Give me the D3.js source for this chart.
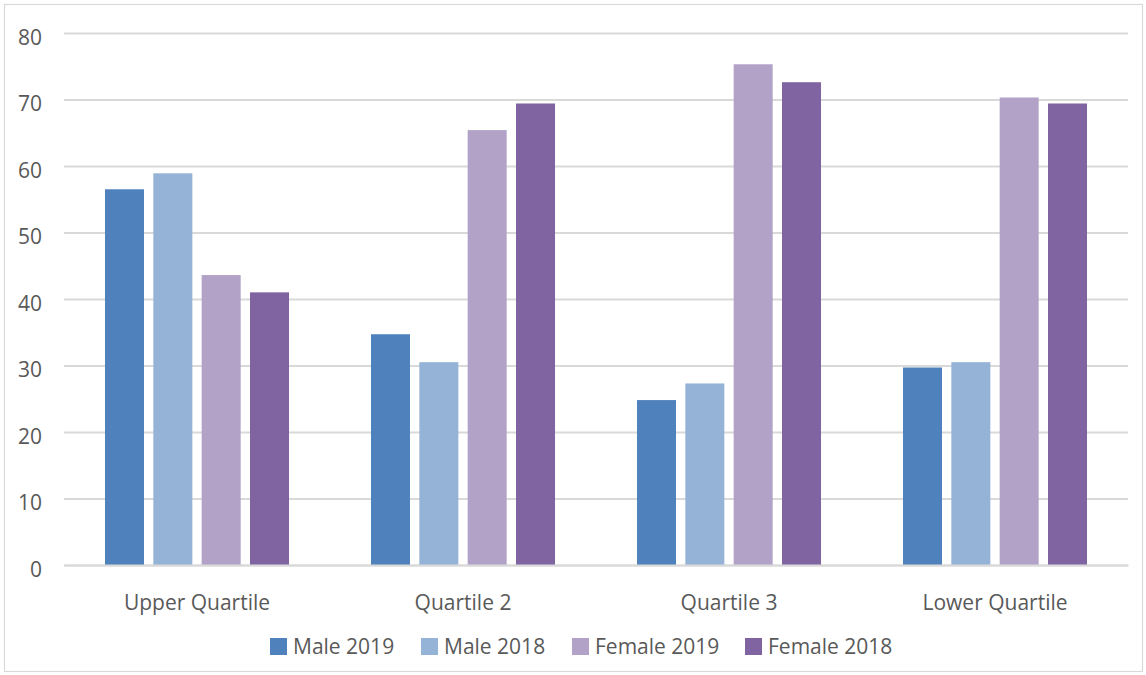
<!DOCTYPE html>
<html>
<head>
<meta charset="utf-8">
<script src="https://cdn.jsdelivr.net/npm/d3@7"></script>
<style>
  html, body { margin: 0; padding: 0; background: #fff; }
  svg { display: block; }
  text { font-family: "Open Sans", "Liberation Sans", sans-serif; fill: #595959; }
</style>
</head>
<body>
<svg id="chart" width="1146" height="675"></svg>
<script>
// Quartile pay bands, share of each group (%)
const categories = ["Upper Quartile", "Quartile 2", "Quartile 3", "Lower Quartile"];
const seriesNames = ["Male 2019", "Male 2018", "Female 2019", "Female 2018"];
const male2019   = [56.5, 34.7, 24.8, 29.7];
const male2018   = [58.9, 30.5, 27.3, 30.5];
const female2019 = [43.6, 65.4, 75.3, 70.3];
const female2018 = [41.0, 69.4, 72.6, 69.4];
const yTicks = [0, 10, 20, 30, 40, 50, 60, 70, 80];
const seriesColors = ["#4F81BD", "#95B3D7", "#B3A2C7", "#8064A2"];

const seriesValues = [male2019, male2018, female2019, female2018];
const rows = categories.map((c, i) => ({
  category: c,
  values: seriesNames.map((s, j) => ({ series: s, value: seriesValues[j][i] }))
}));

const svg = d3.select("#chart");

// outer frame
svg.append("rect")
  .attr("x", 4.5).attr("y", 4.5)
  .attr("width", 1138).attr("height", 667)
  .attr("fill", "none").attr("stroke", "#d9d9d9").attr("stroke-width", 1.2);

const plot = { left: 64, right: 1128, top: 33, bottom: 565 };

const x0 = d3.scaleBand()
  .domain(categories)
  .range([plot.left, plot.right])
  .padding(0);

const x1 = d3.scaleBand()
  .domain(seriesNames)
  .range([0, x0.bandwidth()])
  .paddingInner(0.193)
  .paddingOuter(0.848);

const y = d3.scaleLinear()
  .domain([0, 80])
  .range([plot.bottom, plot.top]);

const color = d3.scaleOrdinal().domain(seriesNames).range(seriesColors);

// gridlines
const yAxis = d3.axisLeft(y)
  .tickValues(yTicks)
  .tickSize(-(plot.right - plot.left))
  .tickPadding(22)
  .tickFormat(d3.format("d"));

const gy = svg.append("g")
  .attr("transform", `translate(${plot.left},0)`)
  .call(yAxis);
gy.select(".domain").remove();
gy.selectAll(".tick line")
  .attr("stroke", "#d9d9d9")
  .attr("stroke-width", 2);
gy.selectAll(".tick text")
  .attr("font-size", 21)
  .attr("dy", "0.68em")
  .attr("y", -3)
  .style("fill", "#595959");

// bars
const groups = svg.append("g")
  .selectAll("g")
  .data(rows)
  .join("g")
  .attr("transform", d => `translate(${x0(d.category)},0)`);

groups.selectAll("rect")
  .data(d => d.values)
  .join("rect")
  .attr("x", d => x1(d.series))
  .attr("width", x1.bandwidth())
  .attr("y", d => y(d.value))
  .attr("height", d => y(0) - y(d.value))
  .attr("fill", d => color(d.series));

// category axis
const xAxis = d3.axisBottom(x0).tickSize(0).tickPadding(0);
const gx = svg.append("g")
  .attr("transform", `translate(0,${plot.bottom})`)
  .call(xAxis);
gx.select(".domain")
  .attr("stroke", "#d9d9d9")
  .attr("stroke-width", 2);
gx.selectAll(".tick text")
  .attr("font-size", 21)
  .attr("y", 45)
  .attr("dy", 0)
  .style("fill", "#595959");

// legend
const legendX = [270, 421, 572, 745];
const legend = svg.append("g")
  .selectAll("g")
  .data(seriesNames)
  .join("g")
  .attr("transform", (d, i) => `translate(${legendX[i]},638)`);
legend.append("rect")
  .attr("width", 17).attr("height", 17)
  .attr("fill", d => color(d));
legend.append("text")
  .attr("x", 23).attr("y", 16)
  .attr("font-size", 21)
  .text(d => d);
</script>
</body>
</html>
